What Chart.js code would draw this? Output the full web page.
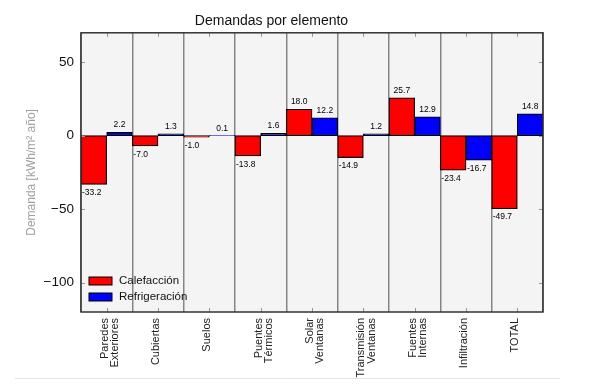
<!DOCTYPE html>
<html>
<head>
<meta charset="utf-8">
<script src="https://cdn.jsdelivr.net/npm/chart.js@4.4.1/dist/chart.umd.min.js"></script>
<style>
  html, body { margin: 0; padding: 0; background: #fff; }
  #wrap { width: 600px; height: 387px; position: relative; }
</style>
</head>
<body>
<div id="wrap"><canvas id="demandChart" width="600" height="387"></canvas></div>
<script>
const categories = [
  ['Paredes', 'Exteriores'], 'Cubiertas', 'Suelos', ['Puentes', 'Térmicos'],
  ['Solar', 'Ventanas'], ['Transmisión', 'Ventanas'], ['Fuentes', 'Internas'],
  'Infiltración', 'TOTAL'
];
const heating = [-33.2, -7.0, -1.0, -13.8, 18.0, -14.9, 25.7, -23.4, -49.7];
const cooling = [2.2, 1.3, 0.1, 1.6, 12.2, 1.2, 12.9, -16.7, 14.8];
const yTicks = [-100, -50, 0, 50];

const FONT = "'Liberation Sans', Arial, sans-serif";

const plotBg = {
  id: 'plotBg',
  beforeDraw(chart) {
    const { ctx, chartArea: a } = chart;
    ctx.save();
    ctx.fillStyle = '#f4f4f4';
    ctx.fillRect(a.left, a.top, a.right - a.left, a.bottom - a.top);
    ctx.restore();
  }
};

const frameAndTicks = {
  id: 'frameAndTicks',
  afterDatasetsDraw(chart) {
    const { ctx, chartArea: a } = chart;
    const xs = chart.scales.x, ys = chart.scales.y;
    ctx.save();
    ctx.strokeStyle = '#999';
    ctx.lineWidth = 1;
    ys.ticks.forEach(t => {
      const y = Math.round(ys.getPixelForValue(t.value)) + 0.5;
      ctx.beginPath();
      ctx.moveTo(a.left, y); ctx.lineTo(a.left + 4, y);
      ctx.moveTo(a.right, y); ctx.lineTo(a.right - 4, y);
      ctx.stroke();
    });
    categories.forEach((c, i) => {
      const x = Math.round(xs.getPixelForValue(i)) + 0.5;
      ctx.beginPath();
      ctx.moveTo(x, a.bottom); ctx.lineTo(x, a.bottom - 4);
      ctx.moveTo(x, a.top); ctx.lineTo(x, a.top + 4);
      ctx.stroke();
    });
    ctx.strokeStyle = '#333';
    ctx.lineWidth = 1.5;
    ctx.strokeRect(a.left, a.top, a.right - a.left, a.bottom - a.top);
    // faint line under the picture
    ctx.strokeStyle = '#e4e4e4';
    ctx.lineWidth = 1;
    ctx.beginPath();
    ctx.moveTo(15, 378.5); ctx.lineTo(560, 378.5);
    ctx.stroke();
    ctx.restore();
  }
};

const valueLabels = {
  id: 'valueLabels',
  afterDatasetsDraw(chart) {
    const ctx = chart.ctx;
    ctx.save();
    ctx.font = '8.5px ' + FONT;
    ctx.fillStyle = '#000';
    chart.data.datasets.forEach((ds, di) => {
      chart.getDatasetMeta(di).data.forEach((bar, i) => {
        const v = ds.data[i];
        const txt = v.toFixed(1);
        if (v >= 0) {
          ctx.textAlign = 'center';
          ctx.textBaseline = 'alphabetic';
          ctx.fillText(txt, bar.x, bar.y - 5);
        } else {
          ctx.textAlign = 'left';
          ctx.textBaseline = 'top';
          ctx.fillText(txt, bar.x - bar.width / 2 + 1, bar.y + 4);
        }
      });
    });
    ctx.restore();
  }
};

const boxLegend = {
  id: 'boxLegend',
  afterDraw(chart) {
    const { ctx, chartArea: a } = chart;
    ctx.save();
    ctx.font = '11.5px ' + FONT;
    ctx.textAlign = 'left';
    ctx.textBaseline = 'middle';
    chart.data.datasets.forEach((ds, i) => {
      const y = 277 + i * 16;
      ctx.fillStyle = ds.backgroundColor;
      ctx.fillRect(a.left + 8, y, 23, 8);
      ctx.strokeStyle = '#000';
      ctx.lineWidth = 1;
      ctx.strokeRect(a.left + 8, y, 23, 8);
      ctx.fillStyle = '#111';
      ctx.fillText(ds.label, a.left + 38, y + 4);
    });
    ctx.restore();
  }
};

const demandChart = new Chart(document.getElementById('demandChart').getContext('2d'), {
  type: 'bar',
  data: {
    labels: categories,
    datasets: [{
      label: 'Calefacción',
      data: heating,
      backgroundColor: '#ff0000',
      borderColor: '#000',
      borderWidth: 1.2,
      borderSkipped: false,
      categoryPercentage: 1,
      barPercentage: 1
    }, {
      label: 'Refrigeración',
      data: cooling,
      backgroundColor: '#0000ff',
      borderColor: '#000',
      borderWidth: 1.2,
      borderSkipped: false,
      categoryPercentage: 1,
      barPercentage: 1
    }]
  },
  options: {
    responsive: false,
    animation: false,
    layout: { padding: { left: 0, right: 57, top: 0, bottom: 0 } },
    plugins: {
      legend: { display: false },
      tooltip: { enabled: false },
      title: {
        display: true,
        text: 'Demandas por elemento',
        color: '#111',
        font: { family: FONT, size: 14, weight: 'normal' },
        padding: { top: 13, bottom: 3 }
      }
    },
    scales: {
      x: {
        offset: true,
        border: { display: false },
        grid: { offset: true, color: '#858585', lineWidth: 1.5, drawTicks: false },
        ticks: {
          autoSkip: false,
          minRotation: 90,
          maxRotation: 90,
          padding: 6,
          labelOffset: -2,
          color: '#222',
          font: { family: FONT, size: 11, lineHeight: 0.95 }
        },
        afterFit(scale) { scale.height = 75; }
      },
      y: {
        min: -120,
        max: 70,
        border: { display: false },
        grid: { display: false, drawTicks: false },
        afterBuildTicks(scale) { scale.ticks = yTicks.map(v => ({ value: v })); },
        ticks: {
          padding: 7,
          color: '#111',
          font: { family: FONT, size: 13.5 },
          callback: v => (v < 0 ? '\u2212' + Math.abs(v) : String(v))
        },
        title: {
          display: true,
          text: 'Demanda [kWh/m\u00b2 año]',
          color: '#a0a0a0',
          font: { family: FONT, size: 12 },
          padding: { top: 24, bottom: 0 }
        },
        afterFit(scale) { scale.width = 81; }
      }
    }
  },
  plugins: [plotBg, frameAndTicks, valueLabels, boxLegend]
});
</script>
</body>
</html>
